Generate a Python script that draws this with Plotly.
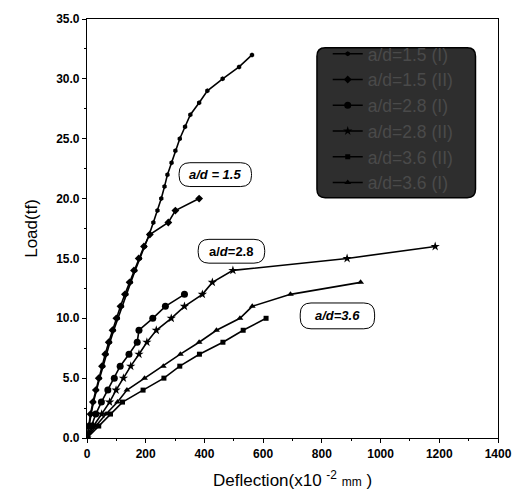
import plotly.graph_objects as go

# Load-deflection records, one marker per 1 tf load step
load_a15_1 = list(range(0, 33))
defl_a15_1 = [0, 6, 14, 22, 32, 43, 55, 66, 78, 91, 105, 119, 134, 149, 164, 180,
              197, 212, 226, 240, 253, 264, 274, 288, 301, 316, 334, 352, 382, 410,
              462, 518, 562]

load_a15_2 = list(range(0, 21))
defl_a15_2 = [0, 5, 12, 20, 30, 40, 51, 62, 74, 87, 100, 114, 129, 145, 160, 176,
              194, 214, 277, 301, 382]

load_a28_1 = list(range(0, 13))
defl_a28_1 = [0, 14, 30, 49, 71, 93, 113, 143, 171, 177, 224, 267, 332]

load_a28_2 = list(range(0, 17))
defl_a28_2 = [0, 22, 50, 77, 99, 124, 149, 177, 204, 236, 287, 332, 393, 427, 497,
              886, 1186]

load_a36_1 = list(range(0, 14))
defl_a36_1 = [0, 30, 65, 104, 136, 196, 260, 318, 382, 441, 521, 563, 693, 932]

load_a36_2 = list(range(0, 11))
defl_a36_2 = [0, 40, 80, 121, 191, 262, 316, 383, 463, 532, 610]

series_names = ["a/d=1.5 (I)", "a/d=1.5 (II)", "a/d=2.8 (I)",
                "a/d=2.8 (II)", "a/d=3.6 (II)", "a/d=3.6 (I)"]

x_ticks = [0, 200, 400, 600, 800, 1000, 1200, 1400]
y_ticks = [0, 5, 10, 15, 20, 25, 30, 35]

FONT = "Arial, Liberation Sans, sans-serif"
W, H = 524, 502
M = dict(l=87, r=17, t=16, b=64)
PW = W - M["l"] - M["r"]
PH = H - M["t"] - M["b"]
XR = (0, 1400)
YR = (0, 35)

series = [
    (defl_a15_1, load_a15_1, "hexagon", 5),
    (defl_a15_2, load_a15_2, "diamond", 6),
    (defl_a28_1, load_a28_1, "circle", 7),
    (defl_a28_2, load_a28_2, "star", 7),
    (defl_a36_2, load_a36_2, "square", 5),
    (defl_a36_1, load_a36_1, "triangle-up", 6),
]

fig = go.Figure()
for (xs, ys, sym, size), name in zip(series, series_names):
    fig.add_trace(go.Scatter(
        x=xs, y=ys, mode="lines+markers", name=name,
        line=dict(color="black", width=1.6),
        marker=dict(symbol=sym, size=size, color="black"),
    ))


def rounded_box(cx, cy, wpx, hpx, rpx):
    """Rounded rectangle path around a data point, sized in pixels."""
    sx = (XR[1] - XR[0]) / PW
    sy = (YR[1] - YR[0]) / PH
    x0, x1 = cx - wpx / 2 * sx, cx + wpx / 2 * sx
    y0, y1 = cy - hpx / 2 * sy, cy + hpx / 2 * sy
    rx, ry = rpx * sx, rpx * sy
    return (f"M {x0 + rx},{y0} L {x1 - rx},{y0} Q {x1},{y0} {x1},{y0 + ry} "
            f"L {x1},{y1 - ry} Q {x1},{y1} {x1 - rx},{y1} L {x0 + rx},{y1} "
            f"Q {x0},{y1} {x0},{y1 - ry} L {x0},{y0 + ry} Q {x0},{y0} {x0 + rx},{y0} Z")


labels = [
    ("<b><i>a/d = 1.5</i></b>", 437, 22.0, 74, 24),
    ("<b>a/<i>d</i>=2.8</b>", 492, 15.6, 68, 24),
    ("<b><i>a/d=3.6</i></b>", 853, 10.2, 76, 26),
]
shapes = []
annotations = []
for text, cx, cy, wpx, hpx in labels:
    shapes.append(dict(type="path", xref="x", yref="y", path=rounded_box(cx, cy, wpx, hpx, 11),
                       line=dict(color="black", width=1), fillcolor="white", layer="above"))
    annotations.append(dict(x=cx, y=cy, xref="x", yref="y", text=text, showarrow=False,
                            font=dict(family=FONT, size=13, color="black")))

# dark rounded panel behind the legend
lx0, lx1 = (322 - M["l"]) / PW, (484 - M["l"]) / PW
ly0, ly1 = (H - M["b"] - 196) / PH, (H - M["b"] - 45) / PH
r = 0.02
shapes.append(dict(
    type="path", xref="paper", yref="paper",
    path=(f"M {lx0 + r},{ly0} L {lx1 - r},{ly0} Q {lx1},{ly0} {lx1},{ly0 + r} "
          f"L {lx1},{ly1 - r} Q {lx1},{ly1} {lx1 - r},{ly1} L {lx0 + r},{ly1} "
          f"Q {lx0},{ly1} {lx0},{ly1 - r} L {lx0},{ly0 + r} Q {lx0},{ly0} {lx0 + r},{ly0} Z"),
    line=dict(color="black", width=1.5), fillcolor="#2e2e2e", layer="above"))

axis_common = dict(
    showgrid=False, zeroline=False, showline=True, linecolor="black", linewidth=1.2,
    mirror=True, ticks="outside", ticklen=4, tickcolor="black", tickwidth=1,
    tickfont=dict(family=FONT, size=12, color="black", weight="bold"),
    minor=dict(ticks="outside", ticklen=2, tickcolor="black"),
)

fig.update_layout(
    width=W, height=H, margin=M,
    paper_bgcolor="white", plot_bgcolor="white",
    font=dict(family=FONT, color="black"),
    xaxis=dict(range=list(XR), tickvals=x_ticks, **axis_common,
               title=dict(text="Deflection(x10 <sup>-2</sup> <span style='font-size:12px'>mm</span> )",
                          font=dict(family=FONT, size=17), standoff=14)),
    yaxis=dict(range=list(YR), tickvals=y_ticks, tickformat=".1f", **axis_common,
               title=dict(text="Load(tf)", font=dict(family=FONT, size=17), standoff=14)),
    showlegend=True,
    legend=dict(x=(333 - M["l"]) / PW, y=(H - M["b"] - 33) / PH, xanchor="left", yanchor="top",
                bgcolor="rgba(0,0,0,0)", borderwidth=0,
                font=dict(family=FONT, size=17.5, color="#4a4a4a"), tracegroupgap=0),
    shapes=shapes, annotations=annotations,
)
fig.update_xaxes(minor_dtick=100)
fig.update_yaxes(minor_dtick=2.5)

fig.write_html("out.html")
